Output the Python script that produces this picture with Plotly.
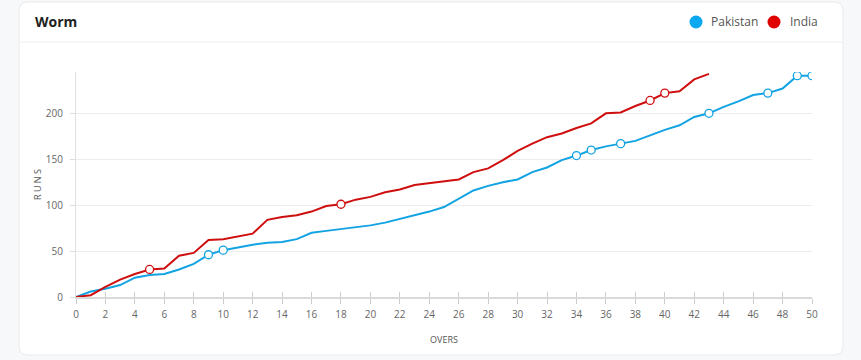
import plotly.graph_objects as go

# ---------------- data ----------------
overs_pakistan = list(range(0, 51))
runs_pakistan = [0, 6, 9, 13, 21, 24, 25, 30, 36, 46,
                 51, 54, 57, 59, 60, 63, 70, 72, 74, 76,
                 78, 81, 85, 89, 93, 98, 107, 116, 121, 125,
                 128, 136, 141, 149, 154, 160, 164, 167, 170, 176,
                 182, 187, 196, 200, 207, 213, 220, 222, 227, 241,
                 241]
wickets_pakistan = [9, 10, 34, 35, 37, 43, 47, 49, 50]

overs_india = list(range(0, 44))
runs_india = [0, 2, 11, 19, 25, 30, 31, 45, 48, 62,
              63, 66, 69, 84, 87, 89, 93, 99, 101, 106,
              109, 114, 117, 122, 124, 126, 128, 136, 140, 149,
              159, 167, 174, 178, 184, 189, 200, 201, 208, 214,
              222, 224, 237, 243]
wickets_india = [5, 18, 39, 40]

x_ticks = list(range(0, 51, 2))
y_ticks = [0, 50, 100, 150, 200]

PAK = "#12a3e3"
IND = "#cf0e0e"
PAK_LEG = "#0aa8f0"
IND_LEG = "#e00000"

# ---------------- geometry (pixels) ----------------
W, H = 861, 360
L, R, T, B = 76, 812, 72, 297
pw, ph = R - L, B - T


def px_x(px):
    return (px - L) / pw


def px_y(py):
    return (B - py) / ph


fig = go.Figure()

fig.add_trace(go.Scatter(
    x=overs_pakistan, y=runs_pakistan, mode="lines", name="Pakistan",
    line=dict(color=PAK, width=2), showlegend=False))
fig.add_trace(go.Scatter(
    x=overs_india, y=runs_india, mode="lines", name="India",
    line=dict(color=IND, width=2), showlegend=False))

fig.add_trace(go.Scatter(
    x=wickets_pakistan, y=[runs_pakistan[o] for o in wickets_pakistan],
    mode="markers", name="Pakistan wickets", showlegend=False,
    marker=dict(size=8, color="white", line=dict(color=PAK, width=1.3))))
fig.add_trace(go.Scatter(
    x=wickets_india, y=[runs_india[o] for o in wickets_india],
    mode="markers", name="India wickets", showlegend=False,
    marker=dict(size=8, color="white", line=dict(color=IND, width=1.3))))

# invisible trace for the overlaying tick axis
fig.add_trace(go.Scatter(x=[0, 50], y=[0, 0], xaxis="x2", mode="lines",
                         line=dict(width=0), hoverinfo="skip", showlegend=False))

# ---------------- card / header shapes ----------------
cx0, cx1, cy0, cy1 = 19, 843, 2, 355
r = 9
rx, ry = r / pw, r / ph
X0, X1 = px_x(cx0), px_x(cx1)
Y0, Y1 = px_y(cy1), px_y(cy0)  # bottom, top in paper
path = (f"M {X0+rx},{Y1} L {X1-rx},{Y1} Q {X1},{Y1} {X1},{Y1-ry} "
        f"L {X1},{Y0+ry} Q {X1},{Y0} {X1-rx},{Y0} "
        f"L {X0+rx},{Y0} Q {X0},{Y0} {X0},{Y0+ry} "
        f"L {X0},{Y1-ry} Q {X0},{Y1} {X0+rx},{Y1} Z")
shapes = [
    dict(type="path", xref="paper", yref="paper", path=path,
         fillcolor="white", line=dict(color="#e9eaec", width=1), layer="below"),
    dict(type="line", xref="paper", yref="paper",
         x0=px_x(cx0 + 1), x1=px_x(cx1 - 1), y0=px_y(42), y1=px_y(42),
         line=dict(color="#eeeeee", width=1), layer="below"),
]

# legend (custom) : circles + text
legend_items = [("Pakistan", PAK_LEG, 696, 709), ("India", IND_LEG, 774, 788)]
annotations = []
for name, col, ccx, tx in legend_items:
    shapes.append(dict(type="circle", xref="paper", yref="paper",
                       xsizemode="pixel", ysizemode="pixel",
                       xanchor=px_x(ccx), yanchor=px_y(22),
                       x0=-6.5, x1=6.5, y0=-6.5, y1=6.5,
                       fillcolor=col, line=dict(width=0)))
    annotations.append(dict(text=name, xref="paper", yref="paper",
                            x=px_x(tx), y=px_y(22), xanchor="left", yanchor="middle",
                            showarrow=False,
                            font=dict(family="Open Sans, sans-serif", size=12, color="#555")))

annotations.append(dict(text="<b>Worm</b>", xref="paper", yref="paper",
                        x=px_x(33), y=px_y(21), xanchor="left", yanchor="middle",
                        showarrow=False,
                        font=dict(family="Open Sans, sans-serif", size=14, color="#222")))

tick_font = dict(family="Open Sans, sans-serif", size=10, color="#666")

fig.update_layout(
    width=W, height=H,
    margin=dict(l=L, r=W - R, t=T, b=H - B, pad=0),
    paper_bgcolor="#f7f8fa",
    plot_bgcolor="rgba(0,0,0,0)",
    showlegend=False,
    shapes=shapes,
    annotations=annotations,
    xaxis=dict(
        range=[0, 50], tickvals=x_ticks, ticktext=[str(v) for v in x_ticks],
        showgrid=False, zeroline=False,
        showline=True, linecolor="#d9d9d9", linewidth=2,
        ticks="outside", ticklen=5, tickcolor="#cccccc", tickwidth=1,
        tickfont=tick_font, ticklabelstandoff=2,
        title=dict(text="OVERS", standoff=17,
                   font=dict(family="Open Sans, sans-serif", size=9, color="#555")),
    ),
    xaxis2=dict(
        range=[0, 50], tickvals=x_ticks[1:], overlaying="x", anchor="y",
        side="bottom", showgrid=False, zeroline=False, showline=False,
        ticks="inside", ticklen=5, tickcolor="#cccccc", tickwidth=1,
        showticklabels=False,
    ),
    yaxis=dict(
        range=[0, 245], tickvals=y_ticks,
        showgrid=True, gridcolor="#ececec", gridwidth=1, zeroline=False,
        showline=True, linecolor="#e0e0e0", linewidth=1,
        ticks="outside", ticklen=5, tickcolor="#dddddd",
        tickfont=tick_font, ticklabelstandoff=5,
        title=dict(text="R U N S", standoff=2,
                   font=dict(family="Open Sans, sans-serif", size=9, color="#555")),
    ),
    hovermode="closest",
)

fig.write_html(
    "out.html",
    config={"displayModeBar": False},
    post_script="document.body.style.margin='0';document.body.style.background='#f7f8fa';",
)
